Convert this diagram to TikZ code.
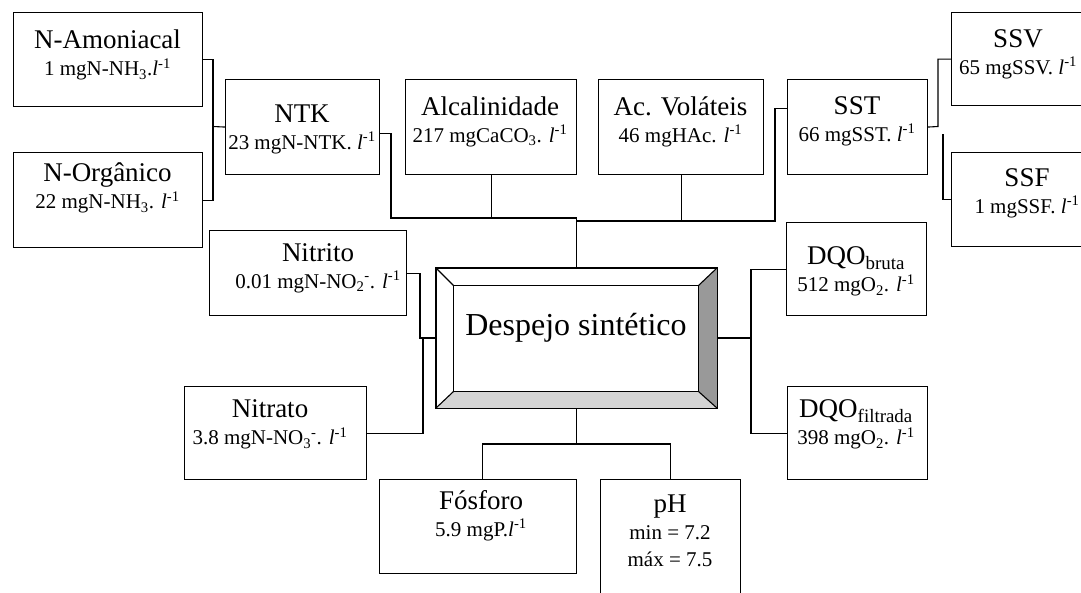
\documentclass[tikz,border=0pt]{standalone}
\usepackage{fontspec}
\setmainfont{Liberation Serif}
\usetikzlibrary{positioning,calc}
\tikzset{every picture/.style={line width=1.1pt}}
\tikzset{
  caixa/.style={draw, anchor=north west, inner sep=0pt},
  rotulo/.style={align=center, inner sep=0pt, font=\fontsize{21}{27}\selectfont},
}
\newcommand{\tit}[1]{{\fontsize{27}{30}\selectfont #1}}
\newcommand{\lmenos}{\textit{l}\textsuperscript{-1}}

\begin{document}
\begin{tikzpicture}[x=1pt, y=-1pt]
    \clip (0,0) rectangle (1081,592);
    % caixas
    \node[caixa, minimum width=189pt, minimum height=94pt] (amon) at (13,12) {};
    \node[caixa, minimum width=189pt, minimum height=95pt] (norg) at (13,152) {};
    \node[caixa, minimum width=154pt, minimum height=95pt] (ntk) at (225,79) {};
    \node[caixa, minimum width=171pt, minimum height=95pt] (alc) at (405,79) {};
    \node[caixa, minimum width=165pt, minimum height=95pt] (acv) at (598,79) {};
    \node[caixa, minimum width=140pt, minimum height=95pt] (sst) at (787,79) {};
    \node[caixa, minimum width=164pt, minimum height=93pt] (ssv) at (951,12) {};
    \node[caixa, minimum width=154pt, minimum height=94pt] (ssf) at (951,152) {};
    \node[caixa, minimum width=197pt, minimum height=85pt] (nitrito) at (209,230) {};
    \node[caixa, minimum width=182pt, minimum height=93pt] (nitrato) at (184,386) {};
    \node[caixa, minimum width=140pt, minimum height=93pt] (dqob) at (786,222) {};
    \node[caixa, minimum width=140pt, minimum height=93pt] (dqof) at (787,386) {};
    \node[caixa, minimum width=197pt, minimum height=94pt] (fosf) at (379,479) {};
    \node[caixa, minimum width=140pt, minimum height=130pt] (ph) at (600,479) {};
    % textos
    \node[rotulo] (amon-t) at (107.5,55.3) {\tit{N-Amoniacal}\\1 mgN-NH\textsubscript{3}.\lmenos};
    \node[rotulo] (norg-t) at (107.5,188.3) {\tit{N-Orgânico}\\22 mgN-NH\textsubscript{3}. \lmenos};
    \node[rotulo] (ntk-t) at (302,129.3) {\tit{NTK}\\23 mgN-NTK. \lmenos};
    \node[rotulo] (alc-t) at (490,121.8) {\tit{Alcalinidade}\\217 mgCaCO\textsubscript{3}. \lmenos};
    \node[rotulo] (acv-t) at (680.5,121.8) {\tit{Ac. Voláteis}\\46 mgHAc. \lmenos};
    \node[rotulo] (sst-t) at (857,121.3) {\tit{SST}\\66 mgSST. \lmenos};
    \node[rotulo] (ssv-t) at (1018,54.3) {\tit{SSV}\\65 mgSSV. \lmenos};
    \node[rotulo] (ssf-t) at (1027,193.3) {\tit{SSF}\\1 mgSSF. \lmenos};
    \node[rotulo] (nitrito-t) at (318,268.3) {\tit{Nitrito}\\0.01 mgN-NO\textsubscript{2}\textsuperscript{-}. \lmenos};
    \node[rotulo] (nitrato-t) at (270,424.8) {\tit{Nitrato}\\3.8 mgN-NO\textsubscript{3}\textsuperscript{-}. \lmenos};
    \node[rotulo] (dqob-t) at (856,271.8) {\tit{DQO\textsubscript{bruta}}\\512 mgO\textsubscript{2}. \lmenos};
    \node[rotulo] (dqof-t) at (856,424.8) {\tit{DQO\textsubscript{filtrada}}\\398 mgO\textsubscript{2}. \lmenos};
    \node[rotulo] (fosf-t) at (481,515.3) {\tit{Fósforo}\\5.9 mgP.\lmenos};
    \node[rotulo] (ph-t) at (670,531) {\tit{pH}\\min = 7.2\\máx = 7.5};
    % caixa central com bisel
    \node[draw, minimum width=281pt, minimum height=140pt, inner sep=0pt] (desp) at (576.5,338) {};
    \coordinate (i-nw) at ($(desp.north west)+(18,18)$);
    \coordinate (i-ne) at ($(desp.north east)+(-19,18)$);
    \coordinate (i-sw) at ($(desp.south west)+(18,-17)$);
    \coordinate (i-se) at ($(desp.south east)+(-19,-17)$);
    \fill[black!40] (desp.north east) -- (desp.south east) -- (i-se) -- (i-ne) -- cycle;
    \fill[black!17] (desp.south west) -- (desp.south east) -- (i-se) -- (i-sw) -- cycle;
    \draw (i-nw) rectangle (i-se);
    \draw (desp.north west) -- (i-nw) (desp.north east) -- (i-ne) (desp.south west) -- (i-sw) (desp.south east) -- (i-se);
    \draw (desp.north west) rectangle (desp.south east);
    \node[font=\fontsize{32}{36}\selectfont, inner sep=0pt, anchor=base] (desp-t) at (576,335) {Despejo sintético};
    % ligacoes NTK
    \coordinate (b-ntk) at (213,126.5);
    \draw (amon.east) -| (b-ntk) |- (norg.east);
    \draw (b-ntk) -- (ntk.west);
    % ligacoes de cima
    \coordinate (t1) at (391,218);
    \coordinate (t2) at (775,221);
    \draw ($(ntk.east)+(0,6.5)$) -| (t1) -- (t1 -| desp.north) -- (desp.north);
    \draw (alc.south) -- (alc.south |- t1);
    \draw ($(sst.west)+(0,-18.5)$) -| (t2) -- (t2 -| desp.north);
    \draw (acv.south) -- (acv.south |- t2);
    % SST
    \coordinate (b-ss) at (938,126.5);
    \draw (sst.east) -- (b-ss) |- (ssv.west);
    \coordinate (b-ssf) at (943,134);
    \draw (b-ssf) |- (ssf.west);
    % DQO
    \coordinate (b-dqo) at (751,338);
    \draw (desp.east) -- (b-dqo);
    \draw (dqob.west) -| (b-dqo) |- (dqof.west);
    % nitrito e nitrato
    \coordinate (b-nit) at (420,338);
    \draw (nitrito.east) -| (b-nit) -- (desp.west);
    \coordinate (b-nat) at (423,338);
    \draw (b-nat) |- (nitrato.east);
    % fosforo e pH
    \coordinate (b-baixo) at (576.5,444);
    \draw (desp.south) -- (b-baixo);
    \draw ($(fosf.north)+(4.5,0)$) |- (b-baixo) -| (ph.north);
\end{tikzpicture}
\end{document}
